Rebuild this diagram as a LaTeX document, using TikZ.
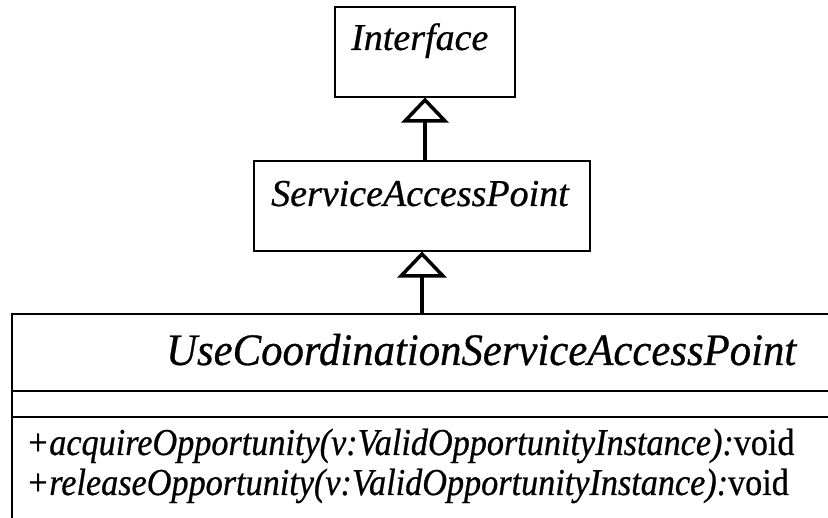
\documentclass[tikz,border=0pt]{standalone}
\usepackage{fontspec}
\setmainfont{Liberation Serif}[ItalicFont={Liberation Serif Italic},FakeBold=0.6,ItalicFeatures={FakeBold=0.6}]
\newfontfamily\condfont{Liberation Serif}[FakeStretch=0.9,FakeBold=0.6,ItalicFont={Liberation Serif Italic},ItalicFeatures={FakeStretch=0.9,FakeBold=0.6}]
\newfontfamily\titlefont{Liberation Serif}[FakeStretch=0.95,FakeBold=0.6,ItalicFont={Liberation Serif Italic},ItalicFeatures={FakeStretch=0.95,FakeBold=0.6}]
\begin{document}
\begin{tikzpicture}[x=1pt,y=-1pt,
  classbox/.style={draw=black,line width=2pt,rectangle,inner sep=0pt},
  lbl/.style={anchor=base west,inner sep=0pt},
  genline/.style={line width=4.5pt},
  genhead/.style={line width=3.5pt,fill=white,line join=miter}]
\useasboundingbox (0,0) rectangle (828,518);
\clip (0,0) rectangle (828,518);
\fill[white] (0,0) rectangle (828,518);
\node[classbox,minimum width=180pt,minimum height=90pt] (iface) at (425,52) {};
\node[classbox,minimum width=336pt,minimum height=90pt] (sap) at (422,206) {};
\node[classbox,minimum width=860pt,minimum height=230pt] (uc) at (442,429) {};
\coordinate (d1) at (0,391);
\coordinate (d2) at (0,417);
\draw[line width=2pt] (uc.west |- d1) -- (uc.east |- d1);
\draw[line width=2pt] (uc.west |- d2) -- (uc.east |- d2);
\node[lbl] (ifacet) at (351,50) {\fontsize{38}{40}\selectfont\itshape Interface};
\node[lbl] (sapt) at (271,206) {\fontsize{38}{40}\selectfont\itshape ServiceAccessPoint};
\node[lbl] (uct) at (166,365) {\fontsize{45}{48}\titlefont\itshape UseCoordinationServiceAccessPoint};
\node[lbl] (m1) at (26,455) {\fontsize{38}{40}\condfont\itshape +acquireOpportunity(v:ValidOpportunityInstance):\upshape void};
\node[lbl] (m2) at (26,495) {\fontsize{38}{40}\condfont\itshape +releaseOpportunity(v:ValidOpportunityInstance):\upshape void};
% generalization: SAP -> Interface
\coordinate (b1) at ([yshift=-23pt]iface.south);
\draw[genline] (sap.north -| iface.south) -- (b1);
\draw[genhead] ([yshift=-2pt]iface.south) -- ([xshift=-20pt]b1) -- ([xshift=20pt]b1) -- cycle;
% generalization: UC -> SAP
\coordinate (b2) at ([yshift=-24pt]sap.south);
\draw[genline] (uc.north -| sap.south) -- (b2);
\draw[genhead] ([yshift=-2pt]sap.south) -- ([xshift=-21pt]b2) -- ([xshift=21pt]b2) -- cycle;
\end{tikzpicture}
\end{document}
